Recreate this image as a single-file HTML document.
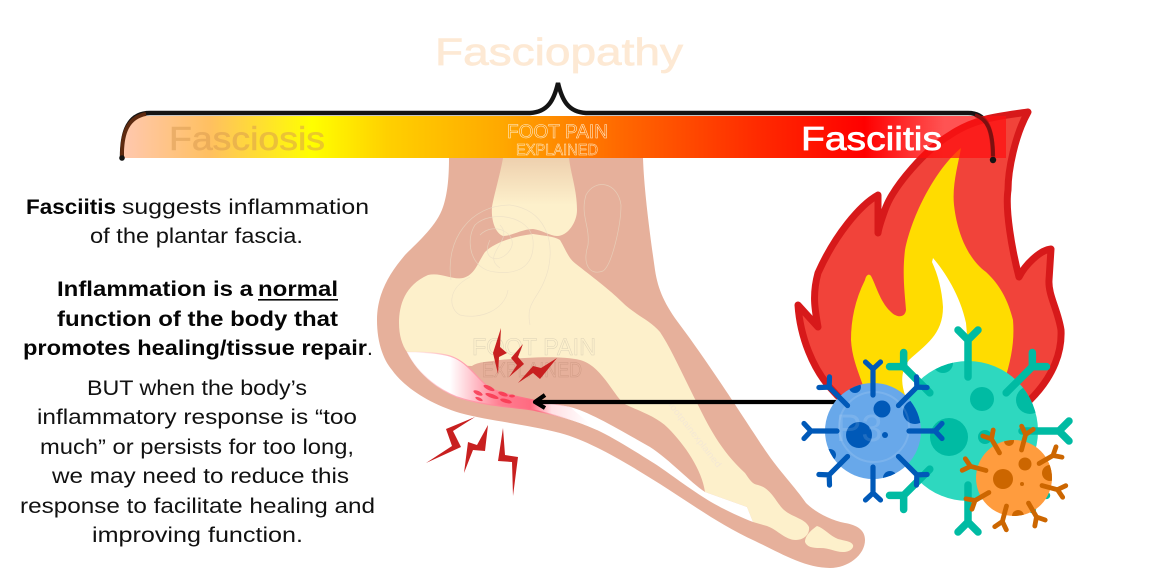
<!DOCTYPE html>
<html><head><meta charset="utf-8"><style>
html,body{margin:0;padding:0;background:#fff}
svg{display:block}
text{font-family:"Liberation Sans",sans-serif}
.t{font-size:21px;fill:#111}
.b{font-size:21px;fill:#050505;font-weight:bold}
</style></head><body>
<svg width="1152" height="578" viewBox="0 0 1152 578" xmlns="http://www.w3.org/2000/svg">
<defs>
<linearGradient id="bar" gradientUnits="userSpaceOnUse" x1="122" x2="1006" y1="0" y2="0">
<stop offset="0" stop-color="#ffc8b0"/>
<stop offset="0.1" stop-color="#ffc060"/>
<stop offset="0.215" stop-color="#ffff00"/>
<stop offset="0.3" stop-color="#ffd000"/>
<stop offset="0.43" stop-color="#ffa800"/>
<stop offset="0.56" stop-color="#ff6a00"/>
<stop offset="0.72" stop-color="#ff2a00"/>
<stop offset="0.84" stop-color="#ff0000"/>
<stop offset="0.93" stop-color="#ff1010" stop-opacity="0.72"/>
<stop offset="1" stop-color="#ff1010" stop-opacity="0.72"/>
</linearGradient>
<linearGradient id="tib" x1="0" x2="0" y1="0" y2="1"><stop offset="0" stop-color="#eed0ae"/><stop offset="0.6" stop-color="#fdf0cb"/></linearGradient>
<linearGradient id="fas" gradientUnits="userSpaceOnUse" x1="415" x2="590" y1="0" y2="0">
<stop offset="0" stop-color="#fff"/><stop offset="0.2" stop-color="#fff"/><stop offset="0.48" stop-color="#ff7f92"/><stop offset="0.66" stop-color="#ff6a80"/><stop offset="0.78" stop-color="#ffe0e4"/><stop offset="1" stop-color="#fff"/>
</linearGradient>
<linearGradient id="fass" gradientUnits="userSpaceOnUse" x1="415" x2="590" y1="0" y2="0">
<stop offset="0" stop-color="#ffb4c0" stop-opacity="0.15"/><stop offset="0.25" stop-color="#ffa4b2"/><stop offset="0.7" stop-color="#ff6a80"/><stop offset="0.9" stop-color="#ffc4cc" stop-opacity="0"/>
</linearGradient>
<clipPath id="cb"><circle cx="873" cy="431" r="48"/></clipPath>
<clipPath id="cg"><circle cx="968" cy="431" r="70"/></clipPath>
<clipPath id="co"><circle cx="1014" cy="478" r="38"/></clipPath>
<g id="ab" fill="none" stroke="#0059b8" stroke-width="5.2" stroke-linecap="round" stroke-linejoin="round"><path d="M0 -36V-63M-7.5 -69L0 -62L7.5 -69"/></g>
<g id="ag" fill="none" stroke="#00bba3" stroke-width="7.5" stroke-linecap="round" stroke-linejoin="round"><path d="M0 -54V-91M-10 -101L0 -91L10 -101"/></g>
<g id="ao" fill="none" stroke="#cc6600" stroke-width="4.8" stroke-linecap="round" stroke-linejoin="round"><path d="M0 -29V-45M-6 -52L0 -45L6 -52"/></g>
</defs>

<!-- foot -->
<path fill="#e6b09b" d="M449 158C449 180 447 195 443 207C437 225 420 240 405 255C388 275 377 295 377 320C377 340 382 358 392 370C405 388 430 404 460 413C490 421 525 424 560 433C590 441 625 462 660 484C690 503 720 525 755 541C780 553 805 568 830 568C848 568 865 555 865 540C865 530 857 525 845 523C830 520 815 512 806 503C795 487 780 472 765 450C745 420 710 365 680 325C665 305 658 290 655 270C650 235 644 190 643 158Z"/>
<path fill="url(#tib)" d="M503 158C500 175 494 195 492 207C491 220 495 233 503 236C512 236 522 229 533 229C542 230 550 236 557 236C568 236 577 222 577 210C577 190 571 175 569 158Z"/>
<path fill="#fdf0cb" d="M399 323C399 305 405 285 428 275C440 272 452 280 463 278C475 275 478 262 485 252C495 242 515 236 533 234C545 236 553 236 560 240C566 250 568 258 576 264C590 275 610 290 622 302C635 315 650 320 660 332C672 350 685 380 697 403C708 425 720 450 745 473C750 480 752 484 758 485C770 488 775 500 782 508C790 517 805 518 809 527C810 535 803 540 796 540C785 540 778 530 767 526L753 522L747 507L705 492C702 470 685 445 668 428C655 415 635 410 623 403C612 392 600 365 580 360C560 355 520 358 500 360C485 362 478 362 472 366C455 365 425 365 407 352C402 345 399 335 399 323Z"/>
<path fill="#fdf0cb" d="M817 526C811 530 805 536 805 542C807 547 812 548 820 548C830 548 835 552 843 552C850 552 854 548 853 545C851 541 845 541 838 539C830 536 824 528 817 526Z"/>
<path fill="#fff" d="M407 352C425 352 445 353 455 358C470 365 480 382 490 388C510 397 545 402 570 407C590 412 620 430 650 447C670 460 690 482 705 492L747 507L753 522C735 515 715 505 703 497C680 482 665 470 652 462C630 448 610 436 597 430C575 420 555 415 533 410C510 407 480 405 457 397C435 388 417 372 407 352Z"/>
<path fill="url(#fas)" stroke="url(#fass)" stroke-width="1.2" d="M407 352C425 352 445 353 455 358C470 365 480 382 490 388C510 397 545 402 570 407L597 430C575 420 555 415 533 410C510 407 480 405 457 397C435 388 417 372 407 352Z"/>
<g fill="#f8364f" opacity="0.85">
<ellipse cx="478" cy="393" rx="5" ry="2" transform="rotate(25 478 393)"/><ellipse cx="489" cy="388" rx="6" ry="2" transform="rotate(25 489 388)"/><ellipse cx="492" cy="396" rx="7" ry="2" transform="rotate(20 492 396)"/><ellipse cx="503" cy="394" rx="5" ry="2" transform="rotate(20 503 394)"/><ellipse cx="506" cy="401" rx="6" ry="2" transform="rotate(15 506 401)"/><ellipse cx="479" cy="399" rx="4" ry="1.5" transform="rotate(25 479 399)"/><ellipse cx="512" cy="396" rx="3" ry="1.5"/>
</g>
<!-- watermark -->
<g fill="none" stroke="#e8dcc6" stroke-width="0.7" opacity="0.65">
<path d="M451 280C445 240 470 205 510 205C545 210 555 240 548 270C540 300 525 300 530 325M470 277C445 290 450 310 460 315C480 320 505 310 508 290"/>
<path d="M475 225C490 210 530 215 533 240C535 265 520 275 495 272C470 270 465 240 475 225ZM480 235C495 220 520 235 510 250C500 265 480 260 490 240M500 225C515 240 480 255 500 268"/>
<path d="M586 195C595 178 618 182 621 205C621 225 612 265 603 271C590 276 582 265 588 245C590 225 580 215 586 195Z"/>
</g>
<text x="472" y="355" font-size="24" fill="none" stroke="#cfc6b0" stroke-width="0.5" opacity="0.7" textLength="124" lengthAdjust="spacingAndGlyphs">FOOT PAIN</text>
<text x="482" y="377" font-size="21" fill="none" stroke="#c4907a" stroke-width="0.5" opacity="0.7" textLength="100" lengthAdjust="spacingAndGlyphs">EXPLAINED</text>
<text transform="translate(668 405) rotate(52)" font-size="9" fill="#f4e8d4" textLength="80" lengthAdjust="spacingAndGlyphs">footpainexplained</text>

<!-- bolts -->
<g fill="#c82020">
<polygon points="475,417 446,429 452,446 426,463 461,447 453,431"/>
<polygon points="488,425 477,445 468,442 464,473 473,450 485,451"/>
<polygon points="503,428 498,461 512,462 513,496 518,457 505,455"/>
<polygon points="501,328 493,353 498,374 499,357 507,353 500,347"/>
<polygon points="523,344 511,358 517,365 509,377 524,364 518,357"/>
<polygon points="557,358 541,368 533,366 518,383 533,373 540,379"/>
</g>

<!-- arrow -->
<path d="M836 402H536M545 395L535 402L545 408" fill="none" stroke="#000" stroke-width="4.2" stroke-linejoin="round"/>

<!-- flame -->
<path fill="#f1433a" stroke="#d7191a" stroke-width="7" stroke-linejoin="round" d="M1028 112C1000 116 975 118 950 135C925 150 895 185 886 207C882 218 879 226 878 233L878 195C860 205 835 235 818 273C812 295 815 310 818 327L798 305C800 335 812 370 835 393C860 425 1000 430 1030 400C1055 375 1062 350 1061 330C1058 310 1048 295 1049 280L1051 249C1040 250 1025 265 1019 277C1012 250 1005 210 1008 190C1008 170 1015 135 1028 112Z"/>
<path fill="#ffdc00" d="M961 148C935 170 912 215 905 250C902 275 905 295 906 310C905 318 897 318 891 312C880 302 876 285 871 276C869 273 866 275 865 280C855 300 851 320 851 340C852 360 860 375 866 395L1000 395C1010 365 1015 345 1013 320C1008 300 1000 285 986 272C972 262 958 240 954 205C952 185 958 165 961 148Z"/>
<path fill="#fff" d="M933 258C945 272 960 295 966 323L970 370L905 395C900 380 902 370 909 360C925 345 943 335 943 307C942 290 938 275 932 262Z"/>

<!-- green virus -->
<circle cx="968" cy="431" r="70" fill="#2ed8bf"/>
<g clip-path="url(#cg)" fill="#00bba3"><circle cx="949" cy="437" r="19"/><circle cx="982" cy="399" r="12"/><circle cx="943" cy="363" r="10"/><circle cx="1030" cy="400" r="14"/><circle cx="985" cy="437" r="7"/></g>
<g transform="translate(968 431)"><use href="#ag"/><use href="#ag" transform="rotate(45)"/><use href="#ag" transform="rotate(90)"/><use href="#ag" transform="rotate(135)"/><use href="#ag" transform="rotate(180)"/><use href="#ag" transform="rotate(225)"/><use href="#ag" transform="rotate(315)"/></g>

<!-- blue virus -->
<circle cx="873" cy="431" r="48" fill="#68a8ea"/>
<g clip-path="url(#cb)" fill="#0059b8"><circle cx="859" cy="435" r="13"/><circle cx="882" cy="409" r="8.5"/><circle cx="885" cy="435" r="3"/><circle cx="915" cy="412" r="12"/><circle cx="855" cy="387" r="6"/><circle cx="890" cy="478" r="7"/><circle cx="830" cy="455" r="6"/></g>
<circle cx="874" cy="427" r="35" fill="none" stroke="#fff" stroke-opacity="0.12" stroke-width="2"/>
<text x="836" y="441" font-size="38" fill="#fff" opacity="0.12">P3</text>
<g transform="translate(873 431)"><use href="#ab"/><use href="#ab" transform="rotate(45)"/><use href="#ab" transform="rotate(90)"/><use href="#ab" transform="rotate(135)"/><use href="#ab" transform="rotate(180)"/><use href="#ab" transform="rotate(225)"/><use href="#ab" transform="rotate(270)"/><use href="#ab" transform="rotate(315)"/></g>

<!-- orange virus -->
<circle cx="1014" cy="478" r="38" fill="#ff9c3e"/>
<g clip-path="url(#co)" fill="#cc6600"><circle cx="1003" cy="479" r="10"/><circle cx="1025" cy="464" r="6.5"/><circle cx="1022" cy="484" r="2"/><circle cx="1009" cy="441" r="5"/><circle cx="1050" cy="473" r="8"/><circle cx="1018" cy="516" r="6"/></g>
<g transform="translate(1014 478)"><use href="#ao" transform="rotate(15)"/><use href="#ao" transform="rotate(60)"/><use href="#ao" transform="rotate(105)"/><use href="#ao" transform="rotate(150)"/><use href="#ao" transform="rotate(195)"/><use href="#ao" transform="rotate(240)"/><use href="#ao" transform="rotate(285)"/><use href="#ao" transform="rotate(330)"/></g>

<!-- brace under bar -->
<path fill="none" stroke="#141414" stroke-width="4.4" stroke-linecap="round" d="M122 158C122 140 124 113 150 113L530 113C548 112 554 100 558 83C562 100 568 112 586 113L968 113C985 113 993 125 993 160"/>
<!-- bar -->
<path fill="url(#bar)" d="M124 158V136C124 125 132 116 143 116H1006V158Z"/>
<path fill="none" stroke="#5e2a10" stroke-width="3.8" d="M122 156C122 140 124 118 146 114"/>
<path fill="none" stroke="#7c1010" stroke-width="3.8" d="M975 115C987 119 993 130 993 156"/>
<circle cx="122" cy="158" r="2.8" fill="#141414"/><circle cx="993" cy="160" r="3.2" fill="#141414"/>

<!-- bar text -->
<text x="435" y="65" font-size="38" fill="#fde9d4" stroke="#fde9d4" stroke-width="0.7" textLength="248" lengthAdjust="spacingAndGlyphs">Fasciopathy</text>
<text x="169" y="150" font-size="33" fill="#d89a50" stroke="#d89a50" stroke-width="0.6" opacity="0.5" textLength="156" lengthAdjust="spacingAndGlyphs">Fasciosis</text>
<text x="801" y="150" font-size="33" fill="#fff" stroke="#fff" stroke-width="0.7" textLength="141" lengthAdjust="spacingAndGlyphs">Fasciitis</text>
<text x="507" y="138" font-size="19" fill="none" stroke="#ffeccc" stroke-width="0.55" textLength="101" lengthAdjust="spacingAndGlyphs">FOOT PAIN</text>
<text x="516" y="155" font-size="16" fill="none" stroke="#ffeccc" stroke-width="0.5" textLength="82" lengthAdjust="spacingAndGlyphs">EXPLAINED</text>

<!-- left text -->
<text class="b" x="26" y="214" textLength="90" lengthAdjust="spacingAndGlyphs">Fasciitis</text>
<text class="t" x="122" y="214" textLength="247" lengthAdjust="spacingAndGlyphs">suggests inflammation</text>
<text class="t" x="90" y="243" textLength="213" lengthAdjust="spacingAndGlyphs">of the plantar fascia.</text>
<text class="b" x="57" y="296" textLength="196" lengthAdjust="spacingAndGlyphs">Inflammation is a</text>
<text class="b" x="258" y="296" textLength="80" lengthAdjust="spacingAndGlyphs">normal</text>
<rect x="258" y="299" width="80" height="1.6" fill="#050505"/>
<text class="b" x="57" y="326" textLength="281" lengthAdjust="spacingAndGlyphs">function of the body that</text>
<text class="b" x="23" y="355" textLength="344" lengthAdjust="spacingAndGlyphs">promotes healing/tissue repair</text>
<text class="t" x="367" y="355">.</text>
<text class="t" x="87" y="395" textLength="220" lengthAdjust="spacingAndGlyphs">BUT when the body’s</text>
<text class="t" x="37" y="424" textLength="320" lengthAdjust="spacingAndGlyphs">inflammatory response is “too</text>
<text class="t" x="40" y="454" textLength="314" lengthAdjust="spacingAndGlyphs">much” or persists for too long,</text>
<text class="t" x="52" y="483" textLength="297" lengthAdjust="spacingAndGlyphs">we may need to reduce this</text>
<text class="t" x="20" y="513" textLength="355" lengthAdjust="spacingAndGlyphs">response to facilitate healing and</text>
<text class="t" x="92" y="542" textLength="211" lengthAdjust="spacingAndGlyphs">improving function.</text>
</svg>
</body></html>
